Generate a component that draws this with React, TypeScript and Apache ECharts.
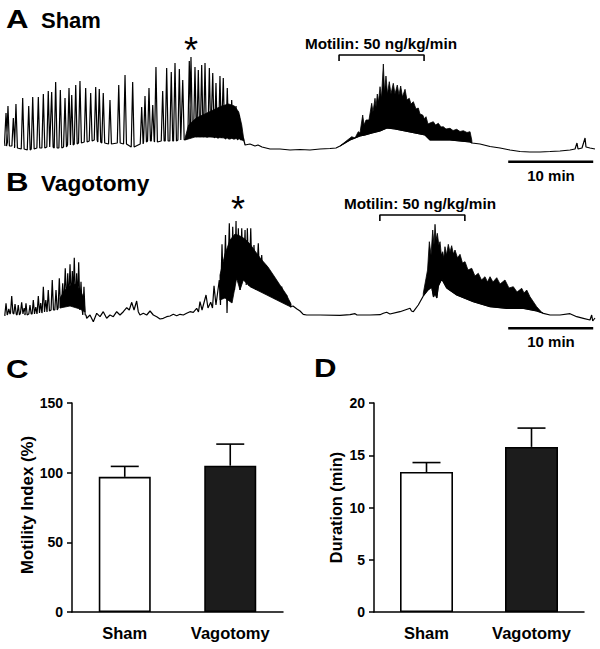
import React, { useEffect, useRef } from "react";
import * as echarts from "echarts";

type Pt = [number, number];
type Spike = [number, number, number]; // [time, peak amplitude, foot amplitude]

// ---------- Panel A: Sham trace (time in min, amplitude in arbitrary units) ----------
const shamSpikes: Spike[] = [
  [0.12, 37, 8], [0.35, 44, 4], [0.98, 32, 4], [1.29, 46, 2], [2.08, 52, 1], [2.79, 44, 0], [3.26, 53, 1],
  [3.92, 53, 2], [4.51, 56, 2], [5.09, 59, 3], [5.49, 58, 3], [5.96, 68, 2], [6.51, 60, 2], [7.06, 52, 3],
  [7.53, 62, 5], [7.85, 55, 5], [8.32, 65, 6], [8.82, 69, 7], [9.49, 62, 8], [10.08, 57, 9], [10.67, 63, 10],
  [11.09, 61, 8], [11.56, 57, 7], [12.35, 50, 6], [13.38, 65, 7], [14.12, 75, 6], [15.02, 68, 3],
  [16.08, 43, 6], [16.47, 54, 8], [16.94, 62, 9], [17.38, 45, 9], [17.76, 83, 8], [18.55, 59, 9],
  [19.02, 82, 9], [19.56, 78, 9], [20.0, 87, 9], [20.51, 81, 10], [20.91, 70, 10], [21.68, 89, 12],
  [21.88, 93, 14], [22.35, 83, 14], [22.74, 80, 13], [23.14, 85, 14], [23.53, 87, 13], [24.04, 82, 13],
  [24.44, 77, 13], [24.82, 67, 12], [25.29, 74, 12], [25.68, 72, 12], [26.15, 62, 11], [26.67, 50, 11],
  [27.18, 44, 11], [27.56, 35, 10],
];
const shamQuiet: Pt[] = [
  [28.04, 12], [28.24, 5], [28.82, 6], [29.41, 4], [29.76, 5], [30.24, 3], [31.18, 1], [32.35, 1],
  [33.53, 0], [34.71, 0.5], [35.88, 0], [37.06, 1], [38.24, 1.5], [38.94, 2], [39.41, 4],
];
const shamPhaseIIIUpper: Pt[] = [
  [21.18, 12], [21.6, 25], [22.5, 32], [23.5, 36], [24.5, 40], [25.5, 44], [26.3, 46], [27.0, 44],
  [27.5, 38], [27.85, 25], [28.1, 10],
];
const shamPhaseIIILower: Pt[] = [
  [21.18, 10], [22.35, 13], [24.12, 13], [25.88, 12], [27.65, 11], [28.1, 9],
];
const shamMotilinUpper: Pt[] = [
  [39.41, 4], [40.0, 8], [40.79, 13.3], [41.18, 12], [41.56, 18.3], [41.76, 17], [42.08, 35], [42.24, 25],
  [42.47, 30], [42.82, 30], [43.14, 46.7], [43.29, 38], [43.53, 51.7], [43.65, 43], [43.8, 56], [43.94, 48],
  [44.12, 63.3], [44.29, 52], [44.51, 86], [44.65, 58], [44.82, 74], [45.0, 56], [45.21, 68.3], [45.41, 56],
  [45.68, 66.7], [45.88, 56], [46.15, 65], [46.35, 55], [46.55, 64], [46.76, 53], [47.06, 60.7], [47.29, 50],
  [47.56, 51.7], [47.76, 46], [48.04, 48.3], [48.35, 41], [48.62, 42], [48.82, 36], [49.14, 35], [49.35, 31],
  [49.53, 33.3], [49.76, 26], [50.0, 27], [50.39, 28.3], [50.65, 25], [50.98, 26.7], [51.29, 23],
  [51.56, 23.3], [51.88, 21], [52.35, 21.7], [52.71, 19.5], [53.14, 20.7], [53.53, 18.5], [53.92, 19.3],
  [54.35, 17.5], [54.71, 18.3], [54.91, 10], [54.94, 7],
];
const shamMotilinLower: Pt[] = [
  [39.41, 4], [40.0, 7], [40.59, 10], [41.18, 12], [41.76, 14], [42.35, 15], [43.18, 17], [44.12, 19],
  [44.94, 22], [45.88, 21], [47.06, 19], [48.24, 17], [49.41, 15], [49.76, 12], [50.0, 10], [51.18, 10],
  [52.35, 10], [53.53, 9], [54.71, 8], [54.94, 7],
];
const shamAfter: Pt[] = [
  [54.94, 7], [55.88, 6], [57.06, 3.5], [58.24, 2], [59.41, 0], [60.59, -1.5], [61.76, -2], [62.94, -2],
  [64.12, -1.5], [65.29, -1], [66.47, 0], [67.06, 1], [67.29, 7], [67.41, 1], [67.88, 2], [68.24, 12],
  [68.35, 3], [68.82, 2], [69.41, 1],
];

// ---------- Panel B: Vagotomy trace ----------
const vagoSpikes: Spike[] = [
  [0.12, 16.7, 5], [0.45, 11, 6], [0.79, 24, 7], [1.18, 16, 6], [1.56, 15, 5], [1.96, 17.7, 7],
  [2.25, 12, 6], [2.47, 16.7, 5], [2.94, 15, 6], [3.33, 20, 6], [3.62, 13, 6], [3.92, 24, 7],
  [4.2, 17, 7], [4.51, 33.3, 8], [4.8, 20, 8], [5.09, 30, 9], [5.56, 40, 10], [6.0, 30, 10],
  [6.39, 41.7, 12], [6.79, 36.7, 15], [7.09, 51.7, 20], [7.38, 46.7, 15], [7.65, 55.7, 20], [7.92, 49, 15],
  [8.15, 62.3, 18], [8.43, 46.7, 15], [8.67, 57.7, 12], [8.94, 38.3, 10], [9.29, 33.3, 5],
];
const vagoTrace: Pt[] = [
  [9.53, 5], [9.61, 1.7],
  [10.0, 5], [10.39, -1.7], [10.79, 6.7], [11.18, 3.3], [11.56, 8.3], [11.96, 1.7], [12.35, 5], [12.74, 3.3],
  [13.14, 8.3], [13.53, 5], [13.92, 8.3], [14.32, 12.3], [14.62, 10], [14.91, 17.7], [15.18, 10], [15.49, 19],
  [15.68, 8.3], [15.88, 5], [16.27, 6.7], [16.67, 5], [17.06, 9], [17.45, 5], [17.85, 3.3], [18.24, 1],
  [18.62, 1.7], [19.02, 3.3], [19.41, 4], [19.8, 5.7], [20.2, 4.3], [20.59, 5.7], [20.98, 5], [21.37, 6.7],
  [21.76, 8.3], [22.15, 7.7], [22.55, 11.7], [22.76, 8], [22.94, 18.3], [23.18, 10], [23.65, 25], [23.88, 12],
  [24.2, 17.7], [24.41, 12], [24.59, 34.3], [24.82, 15], [25.21, 40], [25.35, 15], [25.53, 75.7], [25.71, 22],
  [25.94, 85], [26.12, 7], [26.39, 96.7], [26.59, 20], [26.79, 93.3], [27.0, 30], [27.18, 99], [27.29, 40],
  [27.45, 91.7], [27.65, 30], [27.85, 91.7], [28.04, 40], [28.24, 90], [28.38, 35], [28.51, 91.7], [28.71, 34],
  [28.91, 91.7], [29.09, 32], [29.29, 75], [29.53, 30], [29.8, 76.7], [30.0, 29], [30.2, 65], [30.47, 27],
  [30.71, 55], [30.94, 25], [31.18, 48.3], [31.37, 23], [31.56, 41.7], [31.76, 21], [32.04, 38.3], [32.29, 20],
  [32.55, 33.3], [32.82, 18], [33.14, 25], [33.29, 15], [33.45, 19], [33.59, 13], [33.88, 14], [34.35, 11],
  [34.71, 9], [35.09, 5.7], [35.49, 5], [37.06, 5], [39.41, 4.7], [40.59, 5.3], [41.18, 6.3], [41.41, 5],
  [42.94, 5], [44.12, 5.3], [44.51, 6.7], [44.9, 7.7], [45.29, 6], [46.47, 8.3], [47.06, 10], [47.65, 11.7],
  [47.82, 9], [48.04, 8.3], [48.62, 15],
];
const vagoEarlyUpper: Pt[] = [
  [6.47, 22], [7.06, 30], [7.65, 34], [8.24, 36], [8.82, 30], [9.29, 22], [9.41, 8],
];
const vagoEarlyLower: Pt[] = [[6.47, 12], [7.65, 14], [8.82, 11], [9.41, 8]];
const vagoPhaseIIIUpper: Pt[] = [
  [25.29, 45], [25.88, 66], [26.47, 80], [27.06, 86], [27.65, 84], [28.24, 81], [28.82, 76], [29.41, 69],
  [30.12, 61], [30.94, 53], [31.65, 44], [32.35, 35], [33.06, 26], [33.65, 16],
];
const vagoPhaseIIILower: Pt[] = [
  [25.29, 20], [25.88, 22], [26.71, 17], [27.25, 41.7], [27.65, 30], [28.04, 40], [28.82, 33.3], [29.61, 30],
  [30.79, 25], [31.96, 20], [33.14, 15], [33.65, 13],
];
const vagoMotilinUpper: Pt[] = [
  [49.21, 26.7], [49.53, 41.7], [49.71, 50], [49.92, 78.3], [50.12, 65], [50.32, 90], [50.47, 75],
  [50.59, 95.7], [50.71, 80], [50.86, 86.7], [51.04, 75], [51.18, 78.3], [51.33, 65], [51.49, 68.3],
  [51.62, 62], [51.76, 73.3], [51.94, 65], [52.15, 75.7], [52.35, 68], [52.55, 74.3], [52.74, 66], [52.94, 70],
  [53.24, 62], [53.53, 65.7], [53.82, 57], [54.12, 58.3], [54.47, 50], [54.91, 51.7], [55.29, 44],
  [55.68, 46.7], [56.06, 40], [56.47, 43.3], [56.76, 38], [57.06, 43.3], [57.41, 38], [57.85, 42.3],
  [58.24, 36], [58.82, 40], [59.29, 32], [59.8, 33.3], [60.24, 28], [60.79, 31.7], [61.06, 27], [61.38, 30],
  [61.76, 23.3], [62.55, 13.3], [63.14, 7.7], [63.33, 6.7],
];
const vagoMotilinLower: Pt[] = [
  [49.21, 24], [49.76, 30], [50.2, 33], [50.41, 23], [50.59, 27], [50.8, 22], [50.98, 34], [51.38, 41],
  [51.96, 32], [53.14, 25], [55.09, 18.3], [57.06, 13.3], [59.02, 11.7], [60.98, 11.7], [62.55, 9],
  [63.33, 6.7],
];
const vagoAfter: Pt[] = [
  [63.33, 6.7], [64.12, 5], [65.29, 5], [66.47, 6.3], [67.26, 3.3], [68.04, 1.7], [68.82, 0], [69.02, 5],
  [69.14, -1], [69.41, 2],
];

// ---------- Trace annotations ----------
const traceDuration = 69.41; // min
const scaleBarLength = 10; // min
const scaleBarStart = 59.2; // min
const infusionLength = 10; // min
const motilinStartSham = 39.3;
const motilinStartVago = 44.1;

// ---------- Panels C and D ----------
const categories = ["Sham", "Vagotomy"];
const motilityMean = [97, 105];
const motilitySem = [7.5, 15.5];
const durationMean = [13.4, 15.8];
const durationSem = [0.9, 1.8];
const barColors = ["#ffffff", "#1c1c1c"];

const FONT = "'Liberation Sans', Arial, Helvetica, sans-serif";

function spikesToTrace(spikes: Spike[], halfWidth: number): Pt[] {
  const out: Pt[] = [];
  spikes.forEach(([t, p, f]) => {
    out.push([t - halfWidth, f], [t, p], [t + halfWidth, f]);
  });
  return out;
}

function bandSeries(bands: { upper: Pt[]; lower: Pt[] }[], axis: number) {
  return {
    type: "custom",
    coordinateSystem: "cartesian2d",
    xAxisIndex: axis,
    yAxisIndex: axis,
    silent: true,
    z: 3,
    data: bands.map((b) => b.upper[0]),
    renderItem: (params: any, api: any) => {
      const b = bands[params.dataIndex];
      const pts = [
        ...b.upper.map((p) => api.coord(p)),
        ...b.lower.slice().reverse().map((p) => api.coord(p)),
      ];
      return {
        type: "polygon",
        shape: { points: pts },
        style: { fill: "#000", stroke: "#000", lineWidth: 0.8 },
      };
    },
  };
}

function errorSeries(mean: number[], sem: number[], axis: number) {
  return {
    type: "custom",
    coordinateSystem: "cartesian2d",
    xAxisIndex: axis,
    yAxisIndex: axis,
    silent: true,
    z: 5,
    data: mean.map((m, i) => [i, m, m + sem[i]]),
    renderItem: (params: any, api: any) => {
      const p0 = api.coord([api.value(0), api.value(1)]);
      const p1 = api.coord([api.value(0), api.value(2)]);
      const half = 14;
      const st = { stroke: "#000", lineWidth: 1.6 };
      return {
        type: "group",
        children: [
          { type: "line", shape: { x1: p0[0], y1: p0[1], x2: p1[0], y2: p1[1] }, style: st },
          { type: "line", shape: { x1: p1[0] - half, y1: p1[1], x2: p1[0] + half, y2: p1[1] }, style: st },
        ],
      };
    },
  };
}

function lineSeries(data: Pt[], axis: number, width: number) {
  return {
    type: "line",
    xAxisIndex: axis,
    yAxisIndex: axis,
    data,
    symbol: "none",
    silent: true,
    z: 4,
    lineStyle: { color: "#000", width },
  };
}

function txt(text: string, x: number, y: number, size: number, opts: any = {}) {
  return {
    type: "text",
    x,
    y,
    rotation: opts.rotation || 0,
    scaleX: opts.scaleX || 1,
    silent: true,
    style: {
      text,
      fill: "#000",
      font: `${opts.weight || "bold"} ${size}px ${FONT}`,
      textAlign: opts.align || "left",
      textVerticalAlign: "middle",
      align: opts.align || "left",
      verticalAlign: "middle",
    },
  };
}

export default function App() {
  const ref = useRef<HTMLDivElement>(null);
  useEffect(() => {
    if (!ref.current) return;
    const chart = echarts.init(ref.current, undefined, { renderer: "svg" });

    const traceX = (i: number) => ({
      type: "value",
      gridIndex: i,
      min: 0,
      max: traceDuration,
      show: false,
    });
    const traceY = (i: number) => ({
      type: "value",
      gridIndex: i,
      min: -15,
      max: 110,
      show: false,
    });
    const catX = (i: number) => ({
      type: "category",
      gridIndex: i,
      data: categories,
      axisLine: { lineStyle: { color: "#000", width: 1.5 } },
      axisTick: { alignWithLabel: true, length: 6, lineStyle: { color: "#000", width: 1.5 } },
      axisLabel: { color: "#000", fontWeight: "bold", fontSize: 16.5, fontFamily: FONT, margin: 12 },
    });
    const valY = (i: number, max: number, interval: number) => ({
      type: "value",
      gridIndex: i,
      min: 0,
      max,
      interval,
      axisLine: { show: true, lineStyle: { color: "#000", width: 1.5 } },
      axisTick: { show: true, length: 5, lineStyle: { color: "#000", width: 1.5 } },
      axisLabel: { color: "#000", fontWeight: "bold", fontSize: 14, fontFamily: FONT, margin: 9 },
      splitLine: { show: false },
    });

    const barData = (vals: number[]) =>
      vals.map((v, i) => ({ value: v, itemStyle: { color: barColors[i] } }));

    const scaleBar = (v: number): Pt[] => [
      [scaleBarStart, v],
      [scaleBarStart + scaleBarLength, v],
    ];
    const bracket = (start: number, v: number): Pt[] => [
      [start, v - 6],
      [start, v],
      [start + infusionLength, v],
      [start + infusionLength, v - 6],
    ];

    const shamLine: Pt[] = [
      [0, 4],
      ...spikesToTrace(shamSpikes, 0.17),
      ...shamQuiet,
      ...shamMotilinLower,
      ...shamAfter,
    ];
    const vagoLine: Pt[] = [
      [0, 4],
      ...spikesToTrace(vagoSpikes, 0.14),
      ...vagoTrace,
      ...vagoMotilinLower,
      ...vagoAfter,
    ];

    chart.setOption({
      animation: false,
      textStyle: { fontFamily: FONT },
      grid: [
        { left: 5, top: 40, width: 590, height: 125 },
        { left: 5, top: 210, width: 590, height: 125 },
        { left: 72, top: 403, width: 211, height: 209 },
        { left: 374, top: 403, width: 210, height: 209 },
      ],
      xAxis: [traceX(0), traceX(1), catX(2), catX(3)],
      yAxis: [traceY(0), traceY(1), valY(2, 150, 50), valY(3, 20, 5)],
      series: [
        lineSeries(shamLine, 0, 1.2),
        bandSeries(
          [
            { upper: shamPhaseIIIUpper, lower: shamPhaseIIILower },
            { upper: shamMotilinUpper, lower: shamMotilinLower },
          ],
          0
        ),
        lineSeries(scaleBar(-11.7), 0, 2.6),
        lineSeries(bracket(motilinStartSham, 95), 0, 1.6),
        lineSeries(vagoLine, 1, 1.2),
        bandSeries(
          [
            { upper: vagoEarlyUpper, lower: vagoEarlyLower },
            { upper: vagoPhaseIIIUpper, lower: vagoPhaseIIILower },
            { upper: vagoMotilinUpper, lower: vagoMotilinLower },
          ],
          1
        ),
        lineSeries(scaleBar(-8.3), 1, 2.6),
        lineSeries(bracket(motilinStartVago, 105), 1, 1.6),
        {
          type: "bar",
          xAxisIndex: 2,
          yAxisIndex: 2,
          data: barData(motilityMean),
          barWidth: 52,
          itemStyle: { borderColor: "#000", borderWidth: 1.6 },
          silent: true,
        },
        errorSeries(motilityMean, motilitySem, 2),
        {
          type: "bar",
          xAxisIndex: 3,
          yAxisIndex: 3,
          data: barData(durationMean),
          barWidth: 53,
          itemStyle: { borderColor: "#000", borderWidth: 1.6 },
          silent: true,
        },
        errorSeries(durationMean, durationSem, 3),
      ],
      graphic: [
        txt("A", 6, 19, 26, { scaleX: 1.2 }),
        txt("Sham", 41, 20, 22),
        txt("B", 6, 182, 26, { scaleX: 1.2 }),
        txt("Vagotomy", 41, 184, 22, { scaleX: 1.03 }),
        txt("C", 6, 369, 26, { scaleX: 1.2 }),
        txt("D", 314, 368, 26, { scaleX: 1.2 }),
        txt("*", 191, 50, 36, { align: "center", weight: "normal" }),
        txt("*", 238, 209, 36, { align: "center", weight: "normal" }),
        txt("Motilin: 50 ng/kg/min", 381, 43, 15.3, { align: "center" }),
        txt("Motilin: 50 ng/kg/min", 420, 203.5, 15.3, { align: "center" }),
        txt("10 min", 551, 175, 15, { align: "center" }),
        txt("10 min", 551, 341.5, 15, { align: "center" }),
        txt("Motility Index (%)", 27.5, 505, 16.8, { align: "center", rotation: Math.PI / 2 }),
        txt("Duration (min)", 336, 507.5, 16.3, { align: "center", rotation: Math.PI / 2 }),
      ],
    });
    return () => chart.dispose();
  }, []);
  return (
    <div
      ref={ref}
      style={{ position: "absolute", left: 0, top: 0, width: 600, height: 649, background: "#fff" }}
    />
  );
}
